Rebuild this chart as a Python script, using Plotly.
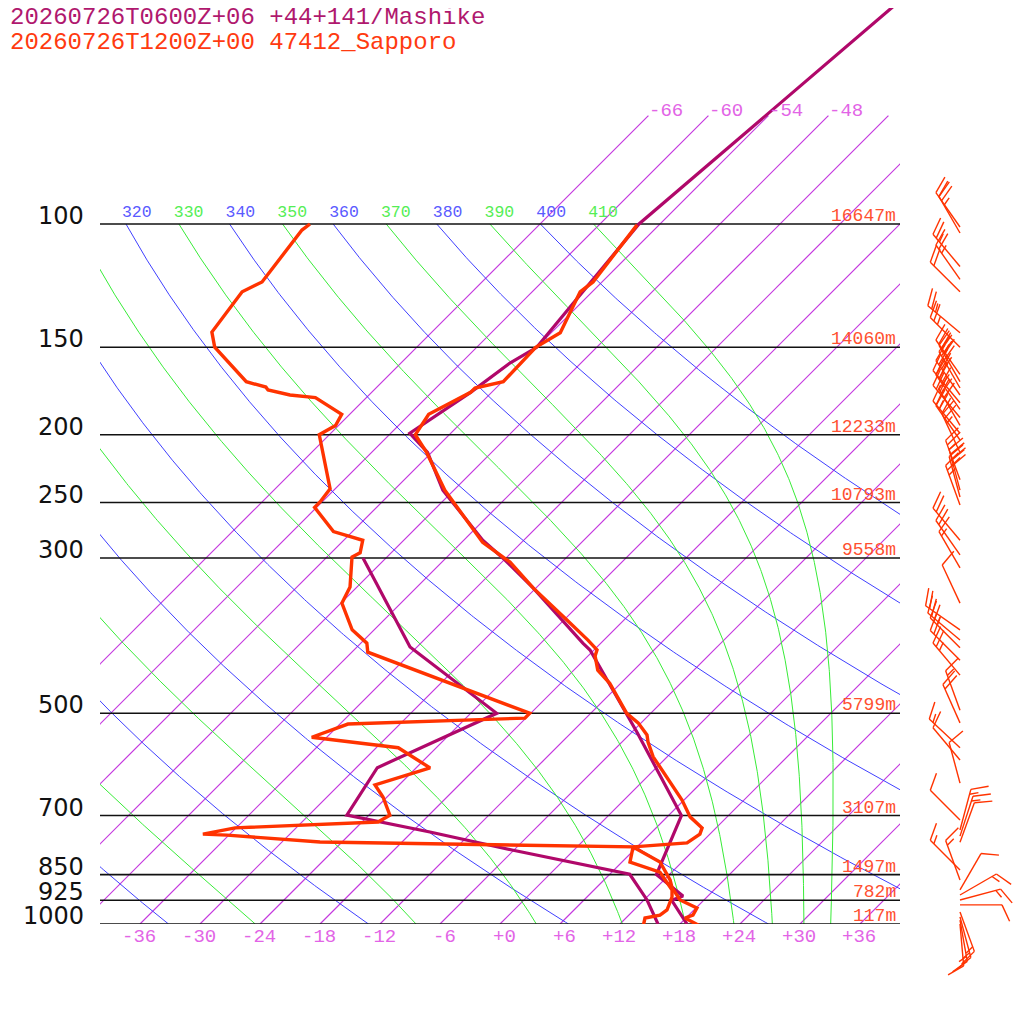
import numpy as np
import plotly.graph_objects as go

# skew-T geometry: 304 px per ln(p) unit, 10 px per degC
SKEW = 30.4
FIG = 1016   # page has an 8 px body margin, so the figure is drawn 8 px in
OFF = 8

title_fcst = "20260726T0600Z+06 +44+141/Mashike"
title_obs = "20260726T1200Z+00 47412_Sapporo"

levels = [1000, 925, 850, 700, 500, 300, 250, 200, 150, 100]
level_heights = ["117m", "782m", "1497m", "3107m", "5799m", "9558m",
                 "10793m", "12233m", "14060m", "16647m"]

# forecast (Mashike) temperature / dew point, hPa & degC
fcst_p = [1000, 925, 912, 850, 700, 533, 406, 397, 331, 302, 283, 240, 212,
          199, 174, 158, 150, 120, 100, 45]
fcst_t = [18.7, 14.8, 15.5, 10.7, 7.3, -5.4, -18.4, -19.8, -30.3, -35.9, -40.1,
          -49.1, -54.4, -58.1, -56.1, -55.1, -54.0, -55.1, -56.1, -52.0]
fcst_dp_p = [1000, 924, 849, 784, 739, 715, 699, 598, 500, 402, 300]
fcst_dp = [15.8, 12.3, 8.0, -6.2, -16.2, -22.2, -26.2, -27.9, -21.4, -36.7, -50.3]

# observed (Sapporo) temperature / dew point
obs_p = [1006.6, 980.5, 971, 949, 924, 888, 865, 815.5, 776, 766, 744, 729, 703,
         665, 577, 549.5, 537, 516, 500, 453, 434, 414, 406, 393, 368, 331, 304,
         285, 240, 212, 200, 187, 174, 171.5, 168, 150, 143, 125, 121, 100.3]
obs_t = [20.2, 17.9, 18.4, 18.1, 15.6, 13.6, 12.6, 9.8, 5.6, 10.6, 11.0, 10.6, 8.3,
         5.8, -1.4, -3.4, -4.2, -6.3, -8.4, -13.1, -15.6, -17.3, -17.7, -19.6,
         -23.7, -30.3, -35.2, -39.9, -48.9, -54.5, -57.4, -58.1, -56.1, -56.1,
         -53.9, -54.1, -53.1, -55.2, -54.9, -56.2]
obs_dp_p = [1009.9, 980.5, 971, 955, 915, 894, 843, 815.5, 776, 771, 763.6, 746.4,
            744, 729, 715, 699, 658.5, 633, 598.5, 560, 541, 518, 508, 500, 420,
            409, 397, 380, 348, 330, 299, 295, 283, 275, 254, 249.5, 239, 200, 194,
            187, 177, 175.5, 172.6, 171, 168, 150, 142.7, 125, 121, 102, 100]
obs_dp = [14.6, 13.9, 15.1, 15.3, 14.5, 13.8, 10.8, 6.8, 5.6, -6.7, -26.2, -36.2,
          -38.7, -36.1, -22.4, -21.9, -24.4, -26.4, -22.6, -27.8, -37.5, -35.2,
          -18.1, -18.1, -37.4, -40.4, -41.4, -44.2, -47.9, -48.7, -51.5, -51.1,
          -52.1, -55.9, -60.2, -60.2, -60.5, -67.0, -66.3, -66.8, -71.1, -73.9,
          -76.6, -77.1, -79.6, -86.2, -88.0, -89.0, -88.0, -89.2, -89.0]

# observed winds (hPa, deg, kt)
wind_p = [101, 103, 115, 120, 125, 143, 150, 164, 168, 171.5, 175.5, 180, 184, 189,
          194, 199, 203.5, 212, 232, 240, 245.5, 252, 283, 297, 310, 348, 380, 393,
          403, 420, 441, 495, 516, 560, 583, 629, 710, 734, 749, 764, 837, 865, 894,
          909, 924, 939, 961, 977, 987, 1000]
wind_dir = [325, 330, 320, 325, 315, 310, 315, 325, 330, 330, 325, 320, 325, 320,
            330, 320, 325, 335, 340, 345, 345, 340, 320, 325, 330, 335, 305, 310,
            315, 315, 320, 340, 336, 313, 320, 345, 315, 15, 18, 20, 315, 340, 30,
            60, 75, 90, 160, 165, 170, 175]
wind_spd = [20, 25, 25, 25, 20, 25, 25, 35, 30, 35, 30, 30, 35, 30, 30, 25, 30, 25,
            25, 30, 30, 25, 20, 20, 15, 10, 20, 20, 25, 20, 25, 15, 20, 15, 10, 10,
            10, 15, 15, 10, 15, 15, 10, 15, 15, 10, 15, 15, 15, 10]

isotherms = list(range(-66, 37, 6))
isotherm_labels = [-66, -60, -54, -48]
bottom_ticks = list(range(-36, 37, 6))
dry_thetas = list(range(220, 401, 20))
moist_thetas = list(range(230, 411, 20))
theta_labels = list(range(310, 411, 10))

PURPLE = "#b0086a"
RED = "#ff3300"
MAG = "rgb(226,100,230)"
ISO = "rgb(196,56,222)"
BLUE = "rgb(64,64,255)"
GREEN = "rgb(56,236,56)"
MONO = "Liberation Mono"


def skew_x(t, p):
    return np.asarray(t, float) + SKEW * np.log(1000.0 / np.asarray(p, float))


def dry_t(theta, p):
    return theta * (np.asarray(p) / 1000.0) ** 0.2857 - 273.15


def moist_t(theta, p):
    Rd, Cp, Lv, eps = 287.04, 1005.7, 2.501e6, 0.622

    def dtdp(T, pp):
        es = 6.112 * np.exp(17.67 * (T - 273.15) / (T - 29.65))
        rs = eps * es / (pp - es)
        return (Rd * T + Lv * rs) / (pp * (Cp + Lv * Lv * rs * eps / (Rd * T * T)))

    T = np.empty_like(p)
    T[0] = theta * (p[0] / 1000.0) ** (Rd / Cp)
    for i in range(len(p) - 1):
        h = p[i + 1] - p[i]
        k1 = dtdp(T[i], p[i])
        k2 = dtdp(T[i] + h * k1 / 2, p[i] + h / 2)
        k3 = dtdp(T[i] + h * k2 / 2, p[i] + h / 2)
        k4 = dtdp(T[i] + h * k3, p[i + 1])
        T[i + 1] = T[i] + h * (k1 + 2 * k2 + 2 * k3 + k4) / 6
    return T - 273.15


def barbs(ps, dirs, spds, x0=46.0, staff=42, full=18, gap=5):
    xs, ys = [], []
    for p, d, s in zip(ps, dirs, spds):
        a, b = np.radians(d), np.radians(d + 65)
        ux, uy = np.sin(a), np.cos(a)
        fx, fy = np.sin(b), np.cos(b)
        segs = [((0, 0), (staff * ux, staff * uy))]
        n10, rest = divmod(int(s), 10)
        pos = staff
        for _ in range(n10):
            segs.append(((pos * ux, pos * uy), (pos * ux + full * fx, pos * uy + full * fy)))
            pos -= gap
        if rest >= 5:
            if n10 == 0:
                pos -= gap
            segs.append(((pos * ux, pos * uy),
                         (pos * ux + full / 2 * fx, pos * uy + full / 2 * fy)))
        for (ax, ay), (bx, by) in segs:
            xs += [x0 + ax / 10.0, x0 + bx / 10.0, None]
            ys += [p * np.exp(-ay / 304.0), p * np.exp(-by / 304.0), None]
    return xs, ys


fig = go.Figure()
pp = np.geomspace(100, 1000, 400)

# isotherms, one trace each
for t in isotherms:
    fig.add_trace(go.Scatter(x=[float(skew_x(t, 1000)), float(skew_x(t, 70))],
                             y=[1000.0, 70.0], mode="lines",
                             line=dict(color=ISO, width=1.2), hoverinfo="skip"))

# dry adiabats
xs, ys = [], []
for th in dry_thetas:
    xs += list(skew_x(dry_t(th, pp), pp)) + [None]
    ys += list(pp) + [None]
fig.add_trace(go.Scatter(x=xs, y=ys, mode="lines", line=dict(color=BLUE, width=1),
                         hoverinfo="skip"))

# moist adiabats
xs, ys = [], []
for th in moist_thetas:
    xs += list(skew_x(moist_t(th, pp), pp)) + [None]
    ys += list(pp) + [None]
fig.add_trace(go.Scatter(x=xs, y=ys, mode="lines", line=dict(color=GREEN, width=1),
                         hoverinfo="skip"))

# pressure levels
xs, ys = [], []
for p in levels:
    xs += [-40, 40, None]
    ys += [p, p, None]
fig.add_trace(go.Scatter(x=xs, y=ys, mode="lines", line=dict(color="#111111", width=1.6),
                         hoverinfo="skip"))

# theta labels just above the 100 hPa line
lab_x = [float(skew_x(dry_t(th, 100), 100)) - 0.4 for th in theta_labels]
fig.add_trace(go.Scatter(
    x=lab_x, y=[100 * np.exp(-11 / 304.0)] * len(theta_labels), mode="text",
    text=[str(th) for th in theta_labels], textposition="middle right",
    textfont=dict(family=MONO, size=16.5,
                  color=[("#5a5aff" if th % 20 == 0 else "#55ee55") for th in theta_labels]),
    cliponaxis=True, hoverinfo="skip"))

# profiles
fig.add_trace(go.Scatter(x=skew_x(fcst_dp, fcst_dp_p), y=fcst_dp_p, mode="lines",
                         line=dict(color=PURPLE, width=3.2)))
fig.add_trace(go.Scatter(x=skew_x(fcst_t, fcst_p), y=fcst_p, mode="lines",
                         line=dict(color=PURPLE, width=3.2)))
fig.add_trace(go.Scatter(x=skew_x(obs_dp, obs_dp_p), y=obs_dp_p, mode="lines",
                         line=dict(color=RED, width=3.4)))
fig.add_trace(go.Scatter(x=skew_x(obs_t, obs_p), y=obs_p, mode="lines",
                         line=dict(color=RED, width=3.4)))

# wind barbs
bx, by = barbs(wind_p, wind_dir, wind_spd)
fig.add_trace(go.Scatter(x=bx, y=by, mode="lines", line=dict(color=RED, width=1.4),
                         xaxis="x2", yaxis="y2", hoverinfo="skip"))

ann = []


def label(text, x, p, color, size, xanchor, yshift=0.0, family=MONO):
    ann.append(dict(text=text, x=x, y=float(np.log10(p)), xref="x2", yref="y2",
                    showarrow=False, xanchor=xanchor, yanchor="middle", yshift=yshift,
                    font=dict(family=family, size=size, color=color)))


for p in levels:
    label(str(p), -41.4, p, "#111111", 24, "right", 8, "DejaVu Sans")
for p, h in zip(levels, level_heights):
    label(h, 39.8, p, "#ff5030", 18, "right", 8)
for t in bottom_ticks:
    label(("+" if t >= 0 else "") + str(t), t + 1.8, 1000, MAG, 19, "right", -13)
for t in isotherm_labels:
    label(str(t), float(skew_x(t, 70)) - 0.1, 70, MAG, 19, "left", 5)

ann.append(dict(text=title_fcst, x=0, y=1 - (18 - OFF) / FIG, xref="paper", yref="paper",
                showarrow=False, xanchor="left", yanchor="middle",
                font=dict(family=MONO, size=24, color="#b0186e")))
ann.append(dict(text=title_obs, x=0, y=1 - (42 - OFF) / FIG, xref="paper", yref="paper",
                showarrow=False, xanchor="left", yanchor="middle",
                font=dict(family=MONO, size=24, color="#ff3a10")))

top_log = 3 - (924 - OFF) / 700.0
fig.update_layout(
    width=FIG, height=FIG, margin=dict(l=0, r=0, t=0, b=0, pad=0),
    paper_bgcolor="white", plot_bgcolor="rgba(0,0,0,0)", showlegend=False,
    xaxis=dict(domain=[(100 - OFF) / FIG, (900 - OFF) / FIG], range=[-40, 40], visible=False),
    yaxis=dict(domain=[100 / FIG, 1], type="log", range=[3, top_log], visible=False),
    xaxis2=dict(domain=[0, 1], range=[(OFF - 500) / 10.0, 52.4], anchor="y2", visible=False),
    yaxis2=dict(domain=[0, 1], type="log", range=[3 + 100 / 700.0, top_log],
                anchor="x2", visible=False),
    annotations=ann,
)

fig.write_html("out.html")
